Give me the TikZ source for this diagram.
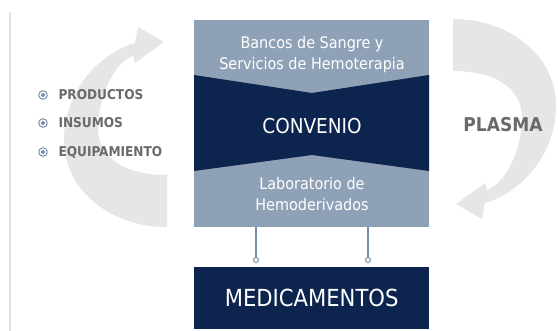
\documentclass[tikz,border=0pt]{standalone}
\usepackage{fontspec}
\newfontfamily\cond{DejaVu Sans Condensed}
\newfontfamily\condb{DejaVu Sans Condensed Bold}
\definecolor{slate}{HTML}{8FA1B6}
\definecolor{navy}{HTML}{0C244E}
\definecolor{conn}{HTML}{7A90AA}
\definecolor{arrowgray}{HTML}{E5E6E8}
\definecolor{rulegray}{HTML}{E2E2E2}
\definecolor{textgray}{HTML}{6A6A6A}
\definecolor{bullet}{HTML}{7B8FA8}
\newcommand\curvedarrowpath{(167,227) .. controls (110,227) and (64,190) .. (64,140)
  .. controls (64,95) and (95,55) .. (135,43) -- (138,27) -- (164,42) -- (135,63) -- (133,56)
  .. controls (112,64) and (98,100) .. (98,128)
  .. controls (98,158) and (125,175) .. (167,175) -- cycle}
\begin{document}
\begin{tikzpicture}[x=1pt,y=-1pt,
  lighttext/.style={text=white,font=\cond\fontsize{16}{21}\selectfont,align=center},
  sidetext/.style={text=textgray,font=\condb\fontsize{13.5}{15}\selectfont,anchor=west},
  connector/.style={draw=conn,line width=1.2pt},
  dotend/.style={circle,draw=conn,fill=white,line width=1pt,inner sep=0pt,minimum size=5pt}]
\useasboundingbox (0,0) rectangle (558,331);
\fill[white] (0,0) rectangle (558,331);
% left rule
\draw[rulegray,line width=1.2pt] (10,12) -- (10,331);
% curved arrows
\fill[arrowgray] \curvedarrowpath;
\begin{scope}[rotate around={180:(310,123)}]
\fill[arrowgray] \curvedarrowpath;
\end{scope}
% main block
\node[fill=slate,minimum width=235pt,minimum height=207pt,inner sep=0pt,anchor=north west] (top) at (194,20) {};
\fill[navy] (194,75) -- (312,93) -- (429,75) -- (429,171) -- (312,155) -- (194,171) -- cycle;
\node[lighttext] (bancos) at (312,55) {Bancos de Sangre y\\Servicios de Hemoterapia};
\node[text=white,font=\cond\fontsize{20.5}{22}\selectfont] (convenio) at (312,126) {CONVENIO};
\node[lighttext] (lab) at (312,194) {Laboratorio de\\Hemoderivados};
\node[fill=navy,minimum width=235pt,minimum height=62pt,inner sep=0pt,anchor=north west] (med) at (194,267) {};
\node[text=white,font=\cond\fontsize{23.5}{26}\selectfont] (medt) at (med.center) {MEDICAMENTOS};
% connectors
\coordinate (c1) at (256,260);
\coordinate (c2) at (368,260);
\draw[connector] (top.south -| c1) -- (c1);
\draw[connector] (top.south -| c2) -- (c2);
\node[dotend] (d1) at (c1) {};
\node[dotend] (d2) at (c2) {};
% side texts
\node[text=textgray,font=\condb\fontsize{19}{22}\selectfont] (plasma) at (503,125) {PLASMA};
\foreach \y/\t/\n in {95/PRODUCTOS/b1,123/INSUMOS/b2,152/EQUIPAMIENTO/b3}{
  \node[circle,draw=bullet,line width=1pt,inner sep=0pt,minimum size=8.5pt] (\n) at (43,\y) {};
  \fill[bullet] (\n.center) circle (2pt);
  \node[sidetext] at (55,\y) {\t};
}
\end{tikzpicture}
\end{document}
